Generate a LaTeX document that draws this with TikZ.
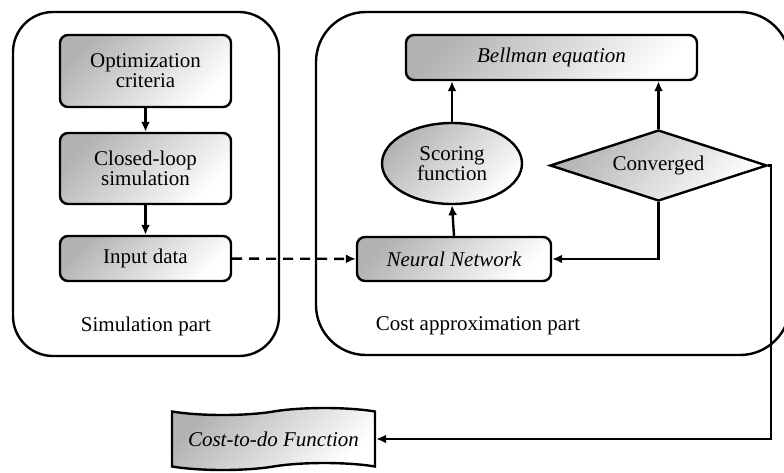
\documentclass[tikz,border=0pt]{standalone}
\usepackage{fontspec}
\setmainfont{Liberation Serif}
\usetikzlibrary{shapes.geometric,shapes.symbols,arrows.meta}
\begin{document}
\begin{tikzpicture}[x=1pt,y=-1pt,
  shd/.style={top color=gray!60, bottom color=white, shading angle=45},
  blk/.style={draw, line width=2.4pt, rounded corners=8pt, shd, inner sep=0pt, align=center,
    font=\fontsize{21}{20}\selectfont},
  part/.style={draw, line width=2.4pt},
  arr/.style={line width=2.4pt, -{Latex[length=10pt,width=9pt]}},
  lbl/.style={font=\fontsize{21}{20}\selectfont, inner sep=0pt}]
\useasboundingbox (0,0) rectangle (784,472);
\begin{scope}
\clip (0,0) rectangle (784,472);
\draw[part, rounded corners=40pt] (13,12) rectangle (279,356);
\draw[part, rounded corners=50pt] (316,12) rectangle (790,355);
\end{scope}
\node[lbl] (simlbl) at (146,326) {Simulation part};
\node[lbl] (costlbl) at (478,326) {Cost approximation part};

\node[blk, minimum width=171pt, minimum height=72pt] (opt) at (145.5,71) {Optimization\\criteria};
\node[blk, minimum width=171pt, minimum height=71pt] (clo) at (145.5,168.5) {Closed-loop\\simulation};
\node[blk, minimum width=171pt, minimum height=45pt] (inp) at (145.5,258.5) {Input data};

\node[blk, minimum width=291pt, minimum height=45pt] (bell) at (551.5,57.5) {\itshape Bellman equation};
\node[blk, ellipse, rounded corners=0pt, minimum width=140pt, minimum height=81pt] (score) at (452,163.5) {Scoring\\function};
\node[blk, diamond, rounded corners=0pt, aspect=3.05, minimum width=217pt, minimum height=71pt] (conv) at (658.5,165.5) {Converged};
\node[blk, minimum width=194pt, minimum height=44pt] (nn) at (454,259) {\itshape Neural Network};
\node[blk, tape, rounded corners=0pt, tape bend height=7pt, minimum width=203pt, minimum height=62pt] (cost) at (273.5,439) {\itshape Cost-to-do Function};

\draw[arr] (opt) -- (clo);
\draw[arr] (clo) -- (inp);
\draw[arr, dash pattern=on 10pt off 7pt] (inp) -- (nn);
\draw[arr] (nn.north) -- (score.south);
\draw[arr] (score.north) -- (score.north |- bell.south);
\draw[arr] (conv.north) -- (conv.north |- bell.south);
\draw[arr] (conv.south) |- (nn.east);
\coordinate (turn) at (771,165.5);
\draw[arr] (conv.east) -- (turn) |- (cost.east);
\end{tikzpicture}
\end{document}
